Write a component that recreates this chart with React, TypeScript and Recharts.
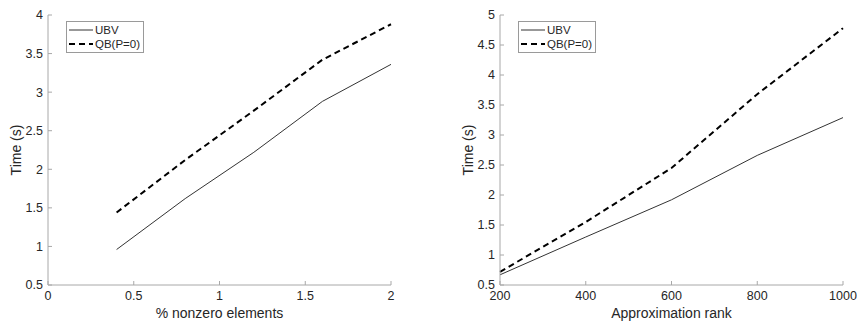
import { LineChart, Line, XAxis, YAxis, Legend } from "recharts"

const density = [0.4, 0.8, 1.2, 1.6, 2.0]
const ubvDensity = [0.96, 1.62, 2.22, 2.88, 3.36]
const qbDensity = [1.44, 2.12, 2.76, 3.42, 3.88]

const rank = [200, 400, 600, 800, 1000]
const ubvRank = [0.67, 1.3, 1.92, 2.66, 3.29]
const qbRank = [0.72, 1.55, 2.45, 3.68, 4.78]

const densityTicks = [0, 0.5, 1, 1.5, 2]
const densityYTicks = [0.5, 1, 1.5, 2, 2.5, 3, 3.5, 4]
const rankTicks = [200, 400, 600, 800, 1000]
const rankYTicks = [0.5, 1, 1.5, 2, 2.5, 3, 3.5, 4, 4.5, 5]

const FONT = "'Liberation Sans', Arial, Helvetica, sans-serif"
const TEXT = "#262626"
const AXIS = "#a8a8a8"

const build = (xs: number[], a: number[], b: number[]) =>
  xs.map((x, i) => ({ x, ubv: a[i], qb: b[i] }))

const MatlabLegend = () => (
  <div
    style={{
      border: "1px solid #9a9a9a",
      background: "#fff",
      padding: "1px 3px 1px 1px",
      fontFamily: FONT,
      fontSize: 11.5,
      color: TEXT,
      lineHeight: "14px",
      width: "fit-content",
    }}
  >
    <div style={{ display: "flex", alignItems: "center" }}>
      <svg width={26} height={14}>
        <line x1={1} y1={7} x2={25} y2={7} stroke="#333" strokeWidth={1} />
      </svg>
      <span style={{ marginLeft: 1 }}>UBV</span>
    </div>
    <div style={{ display: "flex", alignItems: "center" }}>
      <svg width={26} height={14}>
        <line x1={1} y1={7} x2={25} y2={7} stroke="#000" strokeWidth={2} strokeDasharray="6 4" />
      </svg>
      <span style={{ marginLeft: 1 }}>QB(P=0)</span>
    </div>
  </div>
)

type PanelProps = {
  data: { x: number; ubv: number; qb: number }[]
  xDomain: [number, number]
  xTicks: number[]
  yDomain: [number, number]
  yTicks: number[]
  xLabel: string
  width: number
  left: number
  right: number
}

const Panel = ({ data, xDomain, xTicks, yDomain, yTicks, xLabel, width, left, right }: PanelProps) => (
  <LineChart width={width} height={323} data={data} margin={{ top: 15, right, left, bottom: 0 }}>
    <XAxis
      dataKey="x"
      type="number"
      domain={xDomain}
      ticks={xTicks}
      height={38}
      stroke={AXIS}
      tickSize={-4}
      tickMargin={10}
      tick={{ fill: TEXT, fontSize: 12.5, fontFamily: FONT }}
      label={{ value: xLabel, position: "insideBottom", offset: 5, fill: TEXT, fontSize: 14, fontFamily: FONT }}
    />
    <YAxis
      type="number"
      domain={yDomain}
      ticks={yTicks}
      width={40}
      stroke={AXIS}
      tickSize={-4}
      tickMargin={9}
      tick={{ fill: TEXT, fontSize: 12.5, fontFamily: FONT }}
      label={{
        value: "Time (s)",
        angle: -90,
        position: "insideLeft",
        offset: 8,
        style: { textAnchor: "middle" },
        fill: TEXT,
        fontSize: 14,
        fontFamily: FONT,
      }}
    />
    <Legend
      verticalAlign="middle"
      align="center"
      content={() => <MatlabLegend />}
      wrapperStyle={{ top: 21, left: left + 58, width: "auto" }}
    />
    <Line dataKey="ubv" stroke="#333" strokeWidth={1} dot={false} isAnimationActive={false} />
    <Line dataKey="qb" stroke="#000" strokeWidth={2} strokeDasharray="6 4" dot={false} isAnimationActive={false} />
  </LineChart>
)

export default function App() {
  return (
    <div style={{ position: "absolute", left: 0, top: 0, width: 857, height: 323, background: "#fff", display: "flex" }}>
      <Panel
        data={build(density, ubvDensity, qbDensity)}
        xDomain={[0, 2]}
        xTicks={densityTicks}
        yDomain={[0.5, 4]}
        yTicks={densityYTicks}
        xLabel="% nonzero elements"
        width={430}
        left={8}
        right={39}
      />
      <Panel
        data={build(rank, ubvRank, qbRank)}
        xDomain={[200, 1000]}
        xTicks={rankTicks}
        yDomain={[0.5, 5]}
        yTicks={rankYTicks}
        xLabel="Approximation rank"
        width={427}
        left={30}
        right={14}
      />
    </div>
  )
}
